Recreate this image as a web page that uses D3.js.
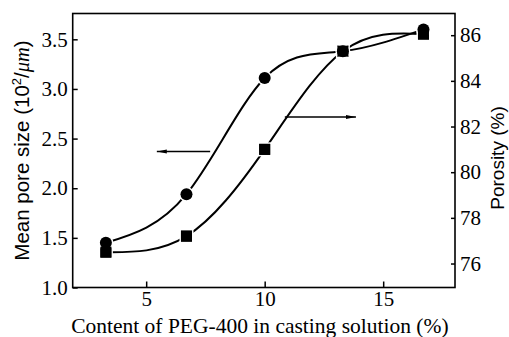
<!DOCTYPE html>
<html>
<head>
<meta charset="utf-8">
<script src="https://cdn.jsdelivr.net/npm/d3@7"></script>
<style>
  body { margin: 0; background: #fff; }
  svg { display: block; }
  .tick text { font-family: "Liberation Serif", "Times New Roman", serif; font-size: 21px; fill: #000; }
  .domain { display: none; }
</style>
</head>
<body>
<svg width="509" height="337"></svg>
<script>
// PEG-400 content (%) in the casting solution
var content = [3.3, 6.7, 10, 13.3, 16.7];
// mean pore size, 10^2/um (left axis, circles)
var poreSize = [1.45, 1.94, 3.11, 3.38, 3.60];
// porosity, % (right axis, squares)
var porosity = [76.5, 77.2, 81.0, 85.3, 86.05];

var xTicks = [5, 10, 15];
var leftTicks = [1.0, 1.5, 2.0, 2.5, 3.0, 3.5];
var rightTicks = [76, 78, 80, 82, 84, 86];

// arrows telling which curve belongs to which axis: [x0, x1, y]
var leftArrow = [7.7, 5.45, 2.37];
var rightArrow = [10.85, 13.85, 82.42];

var svg = d3.select("svg");
var pL = 72.7, pR = 455, pT = 13.5, pB = 287.5;

var x = d3.scaleLinear().domain([1.9, 18.03]).range([pL, pR]);
var yL = d3.scaleLinear().domain([1.0, 3.76]).range([pB, pT]);
var yR = d3.scaleLinear().domain([74.95, 86.95]).range([pB, pT]);

// frame
svg.append("rect")
    .attr("x", pL).attr("y", pT)
    .attr("width", pR - pL).attr("height", pB - pT)
    .attr("fill", "none").attr("stroke", "#000").attr("stroke-width", 1.6);

// axes, ticks pointing inward
svg.append("g")
    .attr("transform", "translate(0," + pB + ")")
    .call(d3.axisBottom(x).tickValues(xTicks).tickSize(-6).tickPadding(4).tickFormat(d3.format("d")))
    .call(function(g) { g.selectAll("line").attr("stroke-width", 1.5); });

svg.append("g")
    .attr("transform", "translate(" + pL + ",0)")
    .call(d3.axisLeft(yL).tickValues(leftTicks).tickSize(-5).tickPadding(5).tickFormat(d3.format(".1f")))
    .call(function(g) { g.selectAll("line").attr("stroke-width", 1.5); });

svg.append("g")
    .attr("transform", "translate(" + pR + ",0)")
    .call(d3.axisRight(yR).tickValues(rightTicks).tickSize(-4).tickPadding(5).tickFormat(d3.format("d")))
    .call(function(g) { g.selectAll("line").attr("stroke-width", 1.5); });

// axis titles
svg.append("text")
    .attr("x", (pL + pR) / 2 - 4).attr("y", 333)
    .attr("text-anchor", "middle")
    .style("font-family", "Liberation Serif, serif").style("font-size", "21.5px")
    .text("Content of PEG-400 in casting solution (%)");

var lt = svg.append("text")
    .attr("transform", "translate(29," + (pB + pT) / 2 + ") rotate(-90)")
    .attr("text-anchor", "middle")
    .style("font-family", "Liberation Sans, Arial, sans-serif").style("font-size", "20.5px");
lt.append("tspan").text("Mean pore size (10");
lt.append("tspan").attr("dy", -8).style("font-size", "13px").text("2");
lt.append("tspan").attr("dy", 8).text("/");
lt.append("tspan").style("font-family", "Liberation Serif, serif").style("font-style", "italic").text("\u03bcm");
lt.append("tspan").text(")");

svg.append("text")
    .attr("transform", "translate(504," + 158 + ") rotate(-90)")
    .attr("text-anchor", "middle")
    .style("font-family", "Liberation Sans, Arial, sans-serif").style("font-size", "19px")
    .text("Porosity (%)");

// curves
var lineL = d3.line().x(function(d, i) { return x(content[i]); }).y(function(d) { return yL(d); })
    .curve(d3.curveNatural);
var lineR = d3.line().x(function(d, i) { return x(content[i]); }).y(function(d) { return yR(d); })
    .curve(d3.curveNatural);

svg.append("path").attr("d", lineL(poreSize))
    .attr("fill", "none").attr("stroke", "#000").attr("stroke-width", 2);
svg.append("path").attr("d", lineR(porosity))
    .attr("fill", "none").attr("stroke", "#000").attr("stroke-width", 2);

// markers with white halo so the curves break around them
svg.selectAll(".sq").data(porosity).enter().append("rect")
    .attr("class", "sq")
    .attr("x", function(d, i) { return x(content[i]) - 5.5; })
    .attr("y", function(d) { return yR(d) - 5.5; })
    .attr("width", 11).attr("height", 11)
    .attr("fill", "#000").attr("stroke", "#fff").attr("stroke-width", 3).attr("paint-order", "stroke");

svg.selectAll(".ci").data(poreSize).enter().append("circle")
    .attr("class", "ci")
    .attr("cx", function(d, i) { return x(content[i]); })
    .attr("cy", function(d) { return yL(d); })
    .attr("r", 6)
    .attr("fill", "#000").attr("stroke", "#fff").attr("stroke-width", 3).attr("paint-order", "stroke");

// redraw squares without halo where they overlap circles at the ends
svg.selectAll(".sq2").data(porosity).enter().append("rect")
    .attr("x", function(d, i) { return x(content[i]) - 5.5; })
    .attr("y", function(d) { return yR(d) - 5.5; })
    .attr("width", 11).attr("height", 11)
    .attr("fill", "#000");

// arrows
var defs = svg.append("defs");
defs.append("marker").attr("id", "arr")
    .attr("viewBox", "0 0 10 6").attr("refX", 10).attr("refY", 3)
    .attr("markerWidth", 10).attr("markerHeight", 6).attr("markerUnits", "userSpaceOnUse")
    .attr("orient", "auto")
  .append("path").attr("d", "M0,1 L10,3 L0,5 Z").attr("fill", "#000");

svg.append("line")
    .attr("x1", x(leftArrow[0])).attr("x2", x(leftArrow[1]))
    .attr("y1", yL(leftArrow[2])).attr("y2", yL(leftArrow[2]))
    .attr("stroke", "#000").attr("stroke-width", 1.5).attr("marker-end", "url(#arr)");

svg.append("line")
    .attr("x1", x(rightArrow[0])).attr("x2", x(rightArrow[1]))
    .attr("y1", yR(rightArrow[2])).attr("y2", yR(rightArrow[2]))
    .attr("stroke", "#000").attr("stroke-width", 1.5).attr("marker-end", "url(#arr)");
</script>
</body>
</html>
